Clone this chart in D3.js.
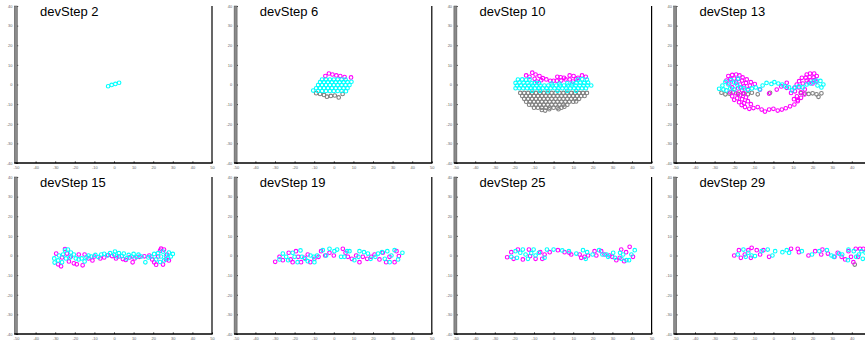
<!DOCTYPE html>
<html><head><meta charset="utf-8">
<script src="https://cdn.jsdelivr.net/npm/d3@7"></script>
<style>body{margin:0;background:#fff;} svg{display:block;}</style>
</head><body>
<svg id="c" width="865" height="343"></svg>
<script>
const titles = ["devStep 2","devStep 6","devStep 10","devStep 13","devStep 15","devStep 19","devStep 25","devStep 29"];
const xTicks = [-50,-40,-30,-20,-10,0,10,20,30,40,50];
const yTicks = [-40,-30,-20,-10,0,10,20,30,40];

// devStep 2
const cyan1 = [[-3,-0.9],[-1.2,-0.2],[0.7,0.3],[2.6,0.9]];
const magenta1 = [];
const gray1 = [];

// devStep 6
const magenta2 = [[-4.3,4.3],[-2.5,5.6],[-0.7,5.1],[1.3,4.6],[3.3,4.3],[5.5,3.8],[8.8,3.6]];
const cyan2 = [[-6,2.5],[-4,2.5],[-2,2.5],[0,2.5],[2,2.5],[4,2.5],[6,2.5],
 [-7,1.2],[-5,1.2],[-3,1.2],[-1,1.2],[1,1.2],[3,1.2],[5,1.2],[7,1.2],[9,1.4],
 [-8,-0.3],[-6,-0.3],[-4,-0.3],[-2,-0.3],[0,-0.3],[2,-0.3],[4,-0.3],[6,-0.3],[8,-0.3],
 [-9,-1.9],[-7,-1.9],[-5,-1.9],[-3,-1.9],[-1,-1.9],[1,-1.9],[3,-1.9],[5,-1.9],[7,-1.9],
 [-10.5,-3.1],[-8,-3.3],[-6,-3.3],[-4,-3.3],[-2,-3.3],[0,-3.3],[2,-3.3],[4,-3.3],[6.2,-3.4]];
const gray2 = [[-9,-4.4],[-7,-4.8],[-5,-5.3],[-3.5,-6.2],[-1.5,-5.8],[0.5,-5.6],[2.5,-6.6],[4.5,-4.8]];

// devStep 10
const magenta3 = [[-14,4.6],[-10.9,6],[-9.2,5.1],[-7.2,4.3],[-5.5,3.2],[-3.7,2.6],[-1.7,1.9],[0,1.9],
 [1.9,3.9],[3.6,3.7],[5.3,3.4],[8.2,4.6],[10.2,4.3],[12.4,3.4],[14.5,4.6],[16.4,3.9],
 [-12.3,3.9],[-9.7,2.9],[-8.5,1.5],[-6.3,2.2],[1.7,1.9],[3.9,2],[6.1,2.6],[8.2,2.6],[9.9,1.5],[11.6,2.9]];
const cyan3 = [[-18.2,2.5],[-16,2.6],[-14,2.4],[-12.3,2.6],[12.4,2.5],[14.6,2.7],[17,2.5],
 [-19.4,0.8],[-17.4,1],[-15.3,0.9],[-13.3,0.8],[-11.2,0.6],[-9.5,0.8],[-7.5,0.7],[-1,0.5],[3,0.5],[7,0.6],[9.5,0.5],[11.6,0.8],[13.6,0.9],[15.6,0.8],[17.6,1],
 [-18.7,-0.5],[-16.7,-0.5],[-14.7,-0.5],[-12.7,-0.5],[-10.7,-0.5],[-8.7,-0.5],[-6.7,-0.5],[-4.7,-0.5],[-2.7,-0.5],[-0.7,-0.5],[1.3,-0.5],[3.3,-0.5],[5.3,-0.5],[7.3,-0.5],[9.3,-0.5],[11.3,-0.5],[13.3,-0.5],[15.3,-0.5],[17.3,-0.5],[19.2,-0.5],
 [-19.4,-1.9],[-17.5,-1.9],[-15.5,-1.9],[-13.5,-1.9],[-11.5,-1.9],[-9.5,-1.9],[-7.5,-1.9],[-5.5,-1.9],[-3.5,-1.9],[-1.5,-1.9],[0.5,-1.9],[2.5,-1.9],[4.5,-1.9],[6.5,-1.9],[8.5,-1.9],[10.5,-1.9],[12.5,-1.9],[14.5,-1.9],[16.5,-1.9],
 [-11,-3.2],[-7,-3.2],[-3,-3.4],[2,-3.2],[7,-3.2],[11.5,-3.2]];
const gray3 = [[-17,-4.3],[-15,-4.3],[-13,-4.3],[-11,-4.3],[-9,-4.3],[-7,-4.3],[-5,-4.3],[-3,-4.3],[-1,-4.3],[1,-4.3],[3,-4.3],[5,-4.3],[7,-4.3],[9,-4.3],[11,-4.3],[13,-4.3],[15,-4.3],[17,-4.3],
 [-16,-5.8],[-14,-5.8],[-12,-5.8],[-10,-5.8],[-8,-5.8],[-6,-5.8],[-4,-5.8],[-2,-5.8],[0,-5.8],[2,-5.8],[4,-5.8],[6,-5.8],[8,-5.8],[10,-5.8],[12,-5.8],[14,-5.8],[15.8,-5.8],
 [-15,-7.3],[-13,-7.3],[-11,-7.3],[-9,-7.3],[-7,-7.3],[-5,-7.3],[-3,-7.3],[-1,-7.3],[1,-7.3],[3,-7.3],[5,-7.3],[7,-7.3],[9,-7.3],[11,-7.3],[13,-7.3],
 [-14,-8.8],[-12,-8.8],[-10,-8.8],[-8,-8.8],[-6,-8.8],[-4,-8.8],[-2,-8.8],[0,-8.8],[2,-8.8],[4,-8.8],[6,-8.8],[8,-8.8],[10,-8.8],[11.5,-8.6],
 [-12.5,-10.3],[-11,-10.3],[-9,-10.3],[-7,-10.3],[-5,-10.3],[-3,-10.3],[-1,-10.3],[1,-10.3],[3,-10.3],[5,-10.3],[7,-10.3],
 [-10,-11.8],[-8,-11.8],[-6,-11.8],[-4,-11.8],[-2,-11.8],[0,-11.8],[2,-11.8],[4,-11.8],[5.5,-11.3],
 [-6,-13],[-4.3,-13.3],[-2.2,-12.6],[2.5,-12.6]];

// devStep 13
const magenta4 = [[-23,4.3],[-21,4.9],[-19,5.1],[-17.3,4.6],[-15.7,3.6],[-13.6,2.6],[-11.5,1.2],[-9.5,0.2],
 [-24,2],[-22,2.8],[-20,3],[-18,2.8],[-16,2],[-14,0.8],[-12,-0.5],[-22.5,0.5],[-19,1],[-17,0],[-15,-1],
 [-21,-1.5],[-18,-2],[-16,-3],[-13,-2.5],[-22,-4],[-19,-4.5],[-17,-5.5],[-15,-4.5],[-21,-6],[-18.5,-7],
 [-16,-7.5],[-14,-6.5],[-20,-7.8],[-17.5,-9],[-15,-9.5],[-13,-8.5],[-11.5,-10],
 [-16.2,-10.5],[-14.5,-11.5],[-12.3,-12.4],[-10.2,-12],[-8,-11.5],[-6,-12.8],[-4.3,-13.8],[-2.2,-12.8],[0,-12.4],
 [2.2,-13.3],[4.3,-12.8],[6.3,-12.1],[8.5,-11.1],[10.7,-10.2],[12.4,-8.5],[14.1,-6.8],[15.8,-5.1],
 [-6.8,-2.6],[-2.2,-4.6],[1.7,-2.6],[4,-1],[6.8,-1.7],[9,-4.3],[6.8,0.9],
 [17,5.1],[18.7,5.6],[20.8,5.6],[22.1,4.3],[14.5,3.4],[16.5,3.5],[18.5,3.8],[20.5,3.6],[13.1,1.7],[11.9,0],[10.7,-1.7],
 [12,-6],[14,-4],[16,-2.5],[11,-3.5],[13,-1.5],[15,0.5],[17,2],[19,2],[21,2.2],[18,1],[20,0.5],[22,1.5],[10.5,-7.5],[12.5,-8]];
const cyan4 = [[-27.7,-2.2],[-26,-0.5],[-24.5,1.3],[-23,0],[-21.5,2.3],[-20,1],[-18.5,0],[-22,-2],[-20,-2.5],
 [-17,-1.5],[-15,-2],[-13,-2.8],[-11,-2],[-9,-1.5],[-7,-2.5],[-5.5,-0.5],[-3.5,0.8],[-1,0.3],[0.5,1.2],[2.5,0.5],
 [4.5,0],[6,-1],[8,-1.5],[9.5,-3],[11,-1.5],[13,-1],[15,-1.5],[17,0],[19,0.5],[20.5,1.5],[22,2],[24,1.8],
 [25.5,0],[24.5,-1.5],[22.5,-0.5],[-24,-3],[-18,3],[-25.5,-2.5]];
const gray4 = [[-26.5,-4.2],[-24.5,-5],[-22.5,-4.6],[-20.5,-4],[-18,-4.8],[-15.5,-4.6],[-13,-5],[-11,-4.2],[-8,-5],
 [-1.7,-4.2],[14,-4.3],[16,-4.6],[18,-4.8],[20,-4.5],[22,-5],[23,-6.3],[24.5,-4.5]];

// devStep 15
const cyan5 = [[-30.5,-1.5],[-30.3,-3.6],[-28.5,-2.5],[-28,0],[-26.5,-3.5],[-26,0.5],[-25,2.5],[-23.5,3],[-24.5,-1.5],
 [-22.5,-1],[-22,1.5],[-20.5,0.5],[-19.5,-1.5],[-18,-2],[-16.5,-1.5],[-15,-3],[-14,-1],[-13,0],[-11.5,-0.5],[-9.5,0.3],
 [-8,-0.8],[-6.5,0.5],[-5,0.9],[-3.5,0],[-2,1.2],[0,0.5],[0.5,2],[1.5,-0.5],[2.5,1.2],[4,-0.3],[5,1],[6.5,-1.5],
 [7.5,0.3],[9,-0.5],[10,0.8],[11.5,-0.8],[12.5,0.4],[14,-0.5],[16,-3.5],[17.5,-1],[19,-0.5],[20.5,0.8],[21.5,-2],
 [22.5,1.2],[23.5,-3.3],[24,-0.5],[25,2],[25.5,-2.5],[26.5,0],[27.5,-1.5],[28,1.5],[29,-0.5],[30,0.8]];
const magenta5 = [[-29.5,1],[-28.5,-4.5],[-27,-5.5],[-26.5,-1],[-25,3.3],[-24,1],[-23,-3],[-22,-0.5],[-20.5,-4],
 [-19,-4.5],[-18,0.5],[-16,-5],[-15,0.5],[-13,-1.5],[-11,-2.5],[-10,-0.5],[-7,-1.5],[-5,-1],[-3,0.2],[-1,-0.3],
 [1,-1.5],[2.5,-0.5],[4.5,-1.8],[6,-2.3],[8,-1],[9.5,-3.5],[10.5,-1.5],[13,-0.7],[15.5,-0.4],[18,0],[19.5,-2],
 [20.5,-3.5],[21.5,-4.7],[22.5,-0.5],[23.5,2.5],[24,3.5],[25.5,3],[25,-4.6],[26.5,-2],[27,0.5],[28,-2.5]];
const gray5 = [];

// devStep 19
const magenta6 = [[-29.9,-3.2],[-27.7,-0.7],[-26,-2.4],[-23,1.4],[-22,-2],[-21,-3.4],[-19.3,2.2],[-18.2,-0.7],
 [-16.7,-3.4],[-15,-1.2],[-13.3,0.5],[-12,-3.4],[-9.9,-1.7],[-7.8,-0.7],[-6.5,2.2],[-4.4,0],[-2.2,1.4],[0,0],
 [4.6,3.4],[6,1.4],[7.2,-0.7],[9.2,-1.7],[11.4,0],[13.1,-3.4],[14.8,-0.7],[17,-1.7],[19.1,-0.7],[20.8,0.5],
 [23.3,-2],[25,1.4],[26.7,-3.4],[28.4,-0.7],[31,-3.4],[32,2.2],[33.2,-0.3]];
const cyan6 = [[-27.7,-2],[-26,1],[-24.3,-0.7],[-23.3,-2.4],[-21,1.4],[-20,-0.7],[-18.5,-3.4],[-17,2.6],[-16.3,-0.7],
 [-14.6,-1.7],[-13.3,-2.9],[-11.9,0],[-10.2,-0.7],[-9.9,-3.4],[-8.5,0],[-5.6,2.7],[-3.9,0],[-2.2,3.4],[0.3,2.2],
 [1.7,3],[3.7,-0.7],[5.4,-0.7],[6.8,2.2],[8,2.2],[10.5,-2.4],[12.6,-0.7],[13.1,2.2],[15.4,1.7],[17.4,1],
 [18.8,-1.7],[21.2,-0.7],[22.6,1],[24.6,1.7],[26,-1.7],[27.3,2.2],[28.5,-3.4],[29.4,0],[31,2.7],[32.8,-2],[35,1.4]];
const gray6 = [];

// devStep 25
const magenta7 = [[-23.7,-0.9],[-21.6,1.7],[-20.4,-1.7],[-18.2,3],[-15.7,-2],[-12.6,3],[-12,-0.3],[-9.2,-1.7],
 [-6.8,1.7],[-5.8,-1.7],[-4.6,0.5],[-2,1.7],[2.2,2.7],[5.6,1.7],[8,1.4],[9,0.5],[13.3,0.5],[14.1,-1.2],[15.8,-0.7],
 [17.6,0],[20.9,2.2],[21.8,0],[24.3,2.2],[26,0.5],[28.5,0],[29.9,-0.7],[32,-2.4],[33.7,-1.2],[34.5,3],[37,1.7],
 [38.8,4.4],[40.5,-0.7],[36,-2.9]];
const cyan7 = [[-21.6,-0.7],[-19.4,2.2],[-18.7,-1.2],[-17,1.4],[-15.7,3],[-14.3,0.5],[-13.1,-1.7],[-11.4,1.2],
 [-10.2,3],[-9.2,0],[-7.5,1.4],[-4.6,-1.2],[-3.4,3],[0,3],[4.4,2.6],[7.8,2.2],[11.6,1],[15,2.7],[16.4,-1.7],
 [17.1,1.7],[19.9,0.5],[23.2,2.7],[24.9,0.5],[27,0.5],[27.8,-0.7],[30.4,1.4],[31.3,-1.2],[33.9,1.4],[34.6,-1.7],
 [35.5,0.5],[37.2,-2.4],[38.5,-2.4],[39.7,0.5],[41.4,2.7]];
const gray7 = [];

// devStep 29
const magenta8 = [[-20,0],[-17.6,2.7],[-16.6,-1.2],[-14.6,0.5],[-12.8,2.7],[-11.1,3.9],[-11.5,-1.2],[-8.5,2.7],
 [-6.8,0.5],[-5.1,2.7],[-2.2,-0.7],[9,3.4],[12.4,3.4],[13,1.7],[17.9,0],[21.3,2.2],[24.4,0.5],[25,3],[27.8,1],
 [31.2,-0.7],[32.8,1.4],[34.8,-0.7],[36.6,-2],[38.3,2.2],[39.6,-0.7],[40.8,-3.4],[42,3.4],[44.2,3.4],[45.9,3.4],[43.2,-0.7]];
const cyan8 = [[-18.2,0.5],[-15.3,3],[-14.1,-0.7],[-12.8,1.4],[-11.1,0],[-9.4,-0.3],[-6,2.2],[-2.9,3],[-0.5,0],
 [0.9,2.2],[4.6,1.7],[6.8,2.7],[8,1.4],[14.5,2.2],[19.7,0.5],[23.4,2.2],[27.3,2.7],[29.6,0],[30.8,-0.7],
 [33.5,1],[35.1,0.5],[38.3,3],[38,-2.4],[41,2.2],[42.2,-0.7],[43.6,0.5],[44.9,2.2],[45.6,-1.7],[47,1.4]];
const gray8 = [[41.5,-4.6]];

const panels = [
  {title: titles[0], magenta: magenta1, gray: gray1, cyan: cyan1},
  {title: titles[1], magenta: magenta2, gray: gray2, cyan: cyan2},
  {title: titles[2], magenta: magenta3, gray: gray3, cyan: cyan3},
  {title: titles[3], magenta: magenta4, gray: gray4, cyan: cyan4},
  {title: titles[4], magenta: magenta5, gray: gray5, cyan: cyan5},
  {title: titles[5], magenta: magenta6, gray: gray6, cyan: cyan6},
  {title: titles[6], magenta: magenta7, gray: gray7, cyan: cyan7},
  {title: titles[7], magenta: magenta8, gray: gray8, cyan: cyan8}
];

const colors = {magenta: "#ff00ff", gray: "#808080", cyan: "#00ffff"};
const svg = d3.select("#c");
const W = 196, H = 157, colStep = 219.8, rowStep = 171, left0 = 16, top0 = 6;

panels.forEach((p, i) => {
  const c = i % 4, r = Math.floor(i / 4);
  const g = svg.append("g").attr("transform", `translate(${left0 + c*colStep},${top0 + r*rowStep})`);
  const x = d3.scaleLinear().domain([-50, 50]).range([0, W]);
  const y = d3.scaleLinear().domain([-40, 40]).range([H, 0]);

  // x axis
  const xa = g.append("g").attr("transform", `translate(0,${H})`)
    .call(d3.axisBottom(x).tickValues(xTicks).tickSize(-1.6).tickPadding(3.5).tickFormat(d => String(d)));
  xa.select(".domain").remove();
  xa.selectAll(".tick line").attr("stroke", "#000").attr("stroke-width", 0.8);
  xa.selectAll(".tick text").attr("font-size", 4).attr("fill", "#666").attr("font-family", "Liberation Sans, Arial, sans-serif");

  // y axis
  const ya = g.append("g")
    .call(d3.axisLeft(y).tickValues(yTicks).tickSize(-2.2).tickPadding(3.5).tickFormat(d => String(d)));
  ya.select(".domain").remove();
  ya.selectAll(".tick line").attr("stroke", "#000").attr("stroke-width", 0.8);
  ya.selectAll(".tick text").attr("font-size", 4).attr("fill", "#666").attr("font-family", "Liberation Sans, Arial, sans-serif");

  // frame
  g.append("rect").attr("x", -1.7).attr("y", 0).attr("width", 3).attr("height", H)
    .attr("fill", "#8a8a8a").attr("stroke", "#4a4a4a").attr("stroke-width", 0.5);
  g.append("line").attr("x1", W).attr("x2", W).attr("y1", 0).attr("y2", H)
    .attr("stroke", "#000").attr("stroke-width", 1.2);
  g.append("line").attr("x1", -1.7).attr("x2", W + 0.6).attr("y1", H).attr("y2", H)
    .attr("stroke", "#000").attr("stroke-width", 1.3);

  // points
  ["gray", "magenta", "cyan"].forEach(k => {
    g.append("g").selectAll("circle").data(p[k]).join("circle")
      .attr("cx", d => x(d[0])).attr("cy", d => y(d[1])).attr("r", 1.8)
      .attr("fill", "none").attr("stroke", colors[k]).attr("stroke-width", 1.1);
  });

  g.append("text").attr("x", 24).attr("y", 10).text(p.title)
    .attr("font-family", "Liberation Sans, Arial, sans-serif").attr("font-size", 13).attr("fill", "#000");
});
</script>
</body></html>
